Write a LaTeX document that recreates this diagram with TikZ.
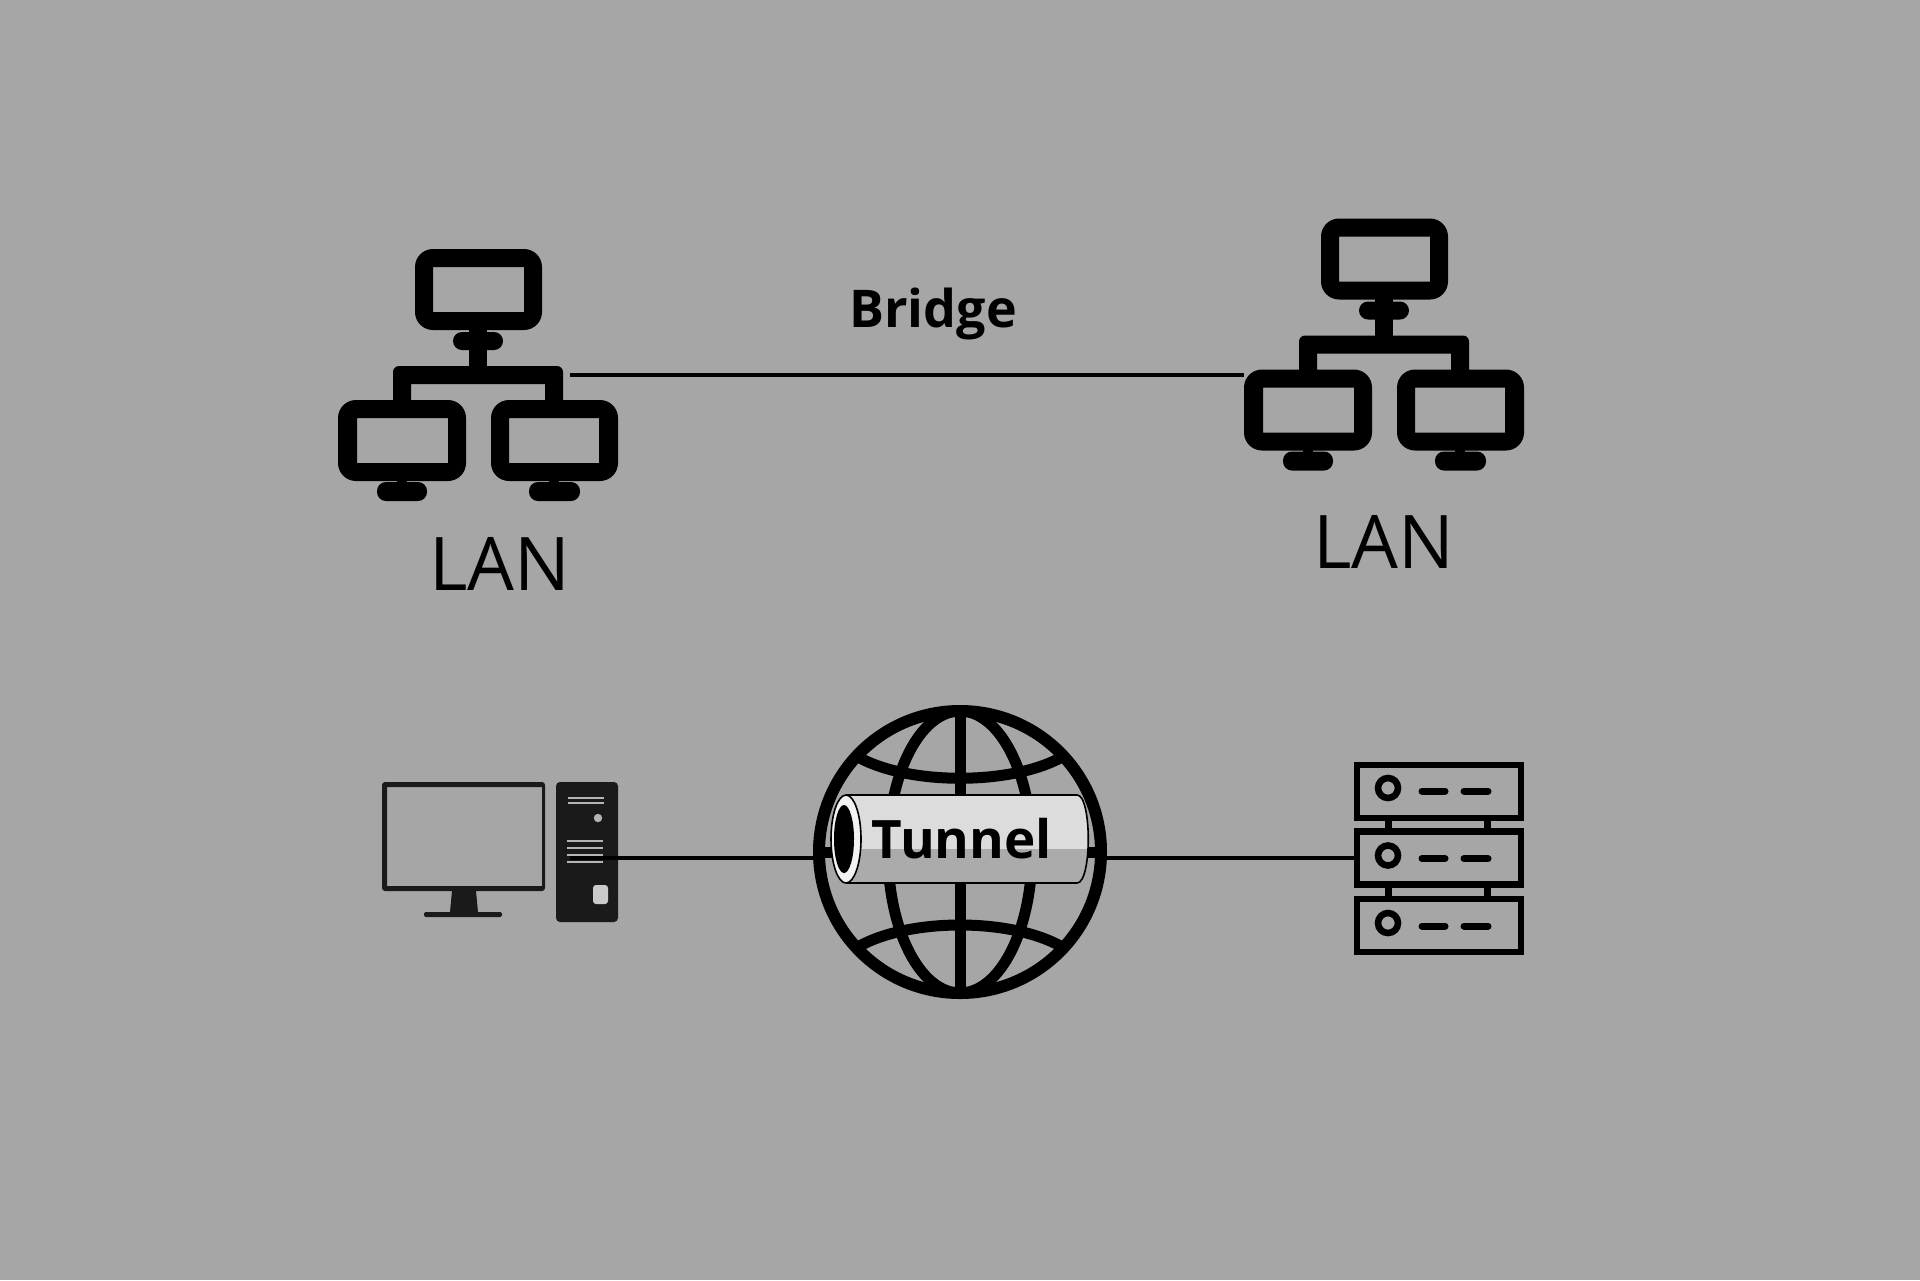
\documentclass[tikz,border=0pt]{standalone}
\usepackage{fontspec}
\setmainfont{Open Sans}
\definecolor{bgc}{HTML}{A6A6A6}
\definecolor{towerc}{HTML}{1A1A1A}
\definecolor{slotc}{HTML}{B4B4B4}
\definecolor{tubetop}{HTML}{DCDCDC}
\definecolor{tubelow}{HTML}{ABABAB}
\tikzset{
  x=0.5pt,y=-0.5pt,
  wire/.style={draw=black,line width=2pt},
  frameicon/.style={fill=black,even odd rule},
  globeline/.style={draw=black,line width=5.5pt},
  rackbox/.style={draw=black,line width=3.2pt,rectangle,inner sep=0pt,outer sep=0pt,minimum width=82pt,minimum height=26.4pt},
  racklink/.style={draw=black,line width=3.5pt},
  rackdash/.style={draw=black,line width=3.5pt,line cap=round},
  lanlabel/.style={anchor=base,font=\fontsize{37}{40}\selectfont,inner sep=0pt},
  boldlabel/.style={anchor=base,font=\bfseries\fontsize{26}{30}\selectfont,inner sep=0pt},
  lanicon/.pic={
    \fill[frameicon] [rounded corners=9pt] (415,249) rectangle (542,330) [sharp corners] (433,267) rectangle (524,312);
    \fill[frameicon] [rounded corners=9pt] (338,400) rectangle (466,481) [sharp corners] (357,418) rectangle (448,463);
    \fill[frameicon] [rounded corners=9pt] (491,400) rectangle (618,481) [sharp corners] (509,418) rectangle (599,463);
    \fill[rounded corners=4.5pt] (453,332) rectangle (503,350);
    \fill[rounded corners=4.5pt] (377,482) rectangle (427,501);
    \fill[rounded corners=4.5pt] (529,482) rectangle (580,501);
    \fill (469,328) rectangle (487,370);
    \fill (397,479) rectangle (407,484);
    \fill (549,479) rectangle (559,484);
    \fill (393,402) [rounded corners=3pt] -- (393,366) -- (563,366) [sharp corners] -- (563,402) -- (545,402) -- (545,384) -- (411,384) -- (411,402) -- cycle;
  }
}
\begin{document}
\begin{tikzpicture}
\useasboundingbox (0,0) rectangle (1920,1280);
\fill[bgc] (0,0) rectangle (1920,1280);

% LAN icons and bridge
\pic at (0,0) {lanicon};
\pic at (906,-30.5) {lanicon};
\coordinate (bridgeA) at (570,374.5);
\coordinate (bridgeB) at (1244,374.5);
\draw[wire] (bridgeA) -- (bridgeB);
\node[boldlabel] (bridgeText) at (933,327) {Bridge};
\node[lanlabel] (lanTextA) at (500,590) {LAN};
\node[lanlabel] (lanTextB) at (1384,568) {LAN};

% Desktop computer
\fill[towerc,even odd rule,rounded corners=1.5pt] (382,782) rectangle (545,891) [sharp corners] (387,787) rectangle (542,886);
\fill[towerc] (452,891) -- (476,891) -- (478,912) -- (450,912) -- cycle;
\fill[towerc,rounded corners=1pt] (424,912) rectangle (502,917);
\fill[towerc,rounded corners=2pt] (556,782) rectangle (618,922);
\foreach \yy in {798,803}{\fill[slotc] (568,\yy-1) rectangle (604,\yy+1.2);}
\foreach \yy in {841,848,855,862}{\fill[slotc] (567,\yy-1) rectangle (603,\yy+1.2);}
\fill[slotc] (598,818) circle[radius=4.2];
\fill[slotc!70!white,rounded corners=1.5pt] (593,885) rectangle (608,904);
\coordinate (pcPort) at (570,857.5);

% Server racks
\node[rackbox] (rackA) at (1439,791.5) {};
\node[rackbox] (rackB) at (1439,858) {};
\node[rackbox] (rackC) at (1439,925.5) {};
\coordinate (rackPort) at (rackB.west |- pcPort);
\foreach \xx in {1388.5,1487.5}{
  \draw[racklink] (\xx,818) -- (\xx,832);
  \draw[racklink] (\xx,885) -- (\xx,899);
}
\foreach \yy in {788,855.5,923}{
  \draw[line width=3.3pt] (1388,\yy) circle[radius=10];
  \draw[rackdash] (1422,\yy+3) -- (1445,\yy+3);
  \draw[rackdash] (1464,\yy+3) -- (1488,\yy+3);
}

% Globe
\node[circle,draw=black,line width=6pt,minimum size=141pt,inner sep=0pt,outer sep=0pt] (globe) at (960,852) {};
\begin{scope}
\clip (globe.center) circle[radius=141];
\draw[globeline] (globe.north) -- (globe.south);
\draw[globeline] (globe.west) -- (globe.east);
\draw[globeline] (960,852) ellipse[x radius=72,y radius=141];
\draw[globeline] (850,752) .. controls (900,787) and (1020,787) .. (1070,752);
\draw[globeline] (850,952) .. controls (900,916) and (1020,916) .. (1070,952);
\end{scope}
\draw[wire] (pcPort) -- (globe.west |- pcPort);
\draw[wire] (globe.east |- rackPort) -- (rackPort);

% Tunnel tube
\begin{scope}
\clip (846,795) -- (1077,795) .. controls (1092,795) and (1092,883) .. (1077,883) -- (846,883) -- cycle;
\fill[tubetop] (830,790) rectangle (1095,849);
\fill[tubelow] (830,849) rectangle (1095,890);
\end{scope}
\draw[black,line width=0.8pt] (846,795) -- (1077,795) .. controls (1092,795) and (1092,883) .. (1077,883) -- (846,883);
\draw[black,fill=white!95!black,line width=0.8pt] (846,839) ellipse[x radius=15,y radius=44];
\fill[black] (844,839) ellipse[x radius=10,y radius=34];
\node[boldlabel,font=\bfseries\fontsize{26.5}{30}\selectfont] (tunnelText) at (962,858) {Tunnel};
\end{tikzpicture}
\end{document}
